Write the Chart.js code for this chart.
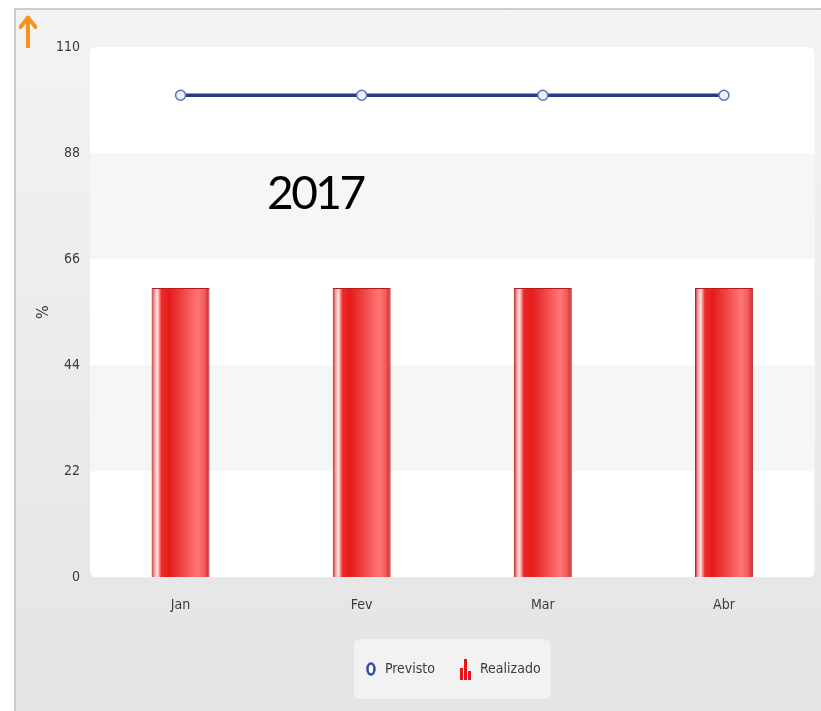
<!DOCTYPE html>
<html>
<head>
<meta charset="utf-8">
<script src="https://cdn.jsdelivr.net/npm/chart.js@4.4.0/dist/chart.umd.min.js"></script>
<style>
  body { margin: 0; background: #fff; }
  #frame {
    position: absolute; left: 14px; top: 8px; width: 807px; height: 703px;
    border-left: 2px solid #cccccc; border-top: 2px solid #cccccc;
    background: linear-gradient(#f3f3f3, #e4e4e4);
  }
  #wrap { position: absolute; left: 0; top: 0; width: 821px; height: 711px; }
  #year {
    position: absolute; left: 267px; top: 169px;
    font-family: Lato, sans-serif; font-size: 46px; line-height: 46px;
    letter-spacing: -2.5px; color: #000;
  }
  #arrow { position: absolute; left: 19px; top: 14px; }
</style>
</head>
<body>
<div id="frame"></div>
<svg id="arrow" width="18" height="36" viewBox="0 0 18 36">
  <path d="M9 6 L9 34" stroke="#f7941d" stroke-width="4" fill="none"/>
  <path d="M1.5 13 L9 3.5 L16.5 13" stroke="#f7941d" stroke-width="4" fill="none" stroke-linejoin="round" stroke-linecap="round"/>
</svg>
<div id="wrap"><canvas id="chart"></canvas></div>
<div id="year">2017</div>

<script>
const labels = ['Jan', 'Fev', 'Mar', 'Abr'];
const previsto = [100, 100, 100, 100];
const realizado = [60, 60, 60, 60];
const yTicks = [0, 22, 44, 66, 88, 110];

const BAR_FRACTION = 0.32;
const tickFont = { family: '"DejaVu Sans Condensed", "DejaVu Sans", sans-serif', size: 14 };

// pequeños iconos para la leyenda
function makePrevistoIcon() {
  const c = document.createElement('canvas');
  c.width = 12; c.height = 16;
  const g = c.getContext('2d');
  g.beginPath();
  g.ellipse(6, 8, 3.5, 5.5, 0, 0, Math.PI * 2);
  g.fillStyle = '#ffffff';
  g.fill();
  g.lineWidth = 2.5;
  g.strokeStyle = '#2d4a9e';
  g.stroke();
  return c;
}

function makeRealizadoIcon() {
  const c = document.createElement('canvas');
  c.width = 14; c.height = 22;
  const g = c.getContext('2d');
  g.fillStyle = '#e8141c';
  g.fillRect(1, 10, 3, 12);
  g.fillRect(5, 1, 3, 21);
  g.fillRect(9, 13, 3, 9);
  return c;
}

const previstoIcon = makePrevistoIcon();
const realizadoIcon = makeRealizadoIcon();

function barGradient(c) {
  const chart = c.chart;
  const x = chart.scales.x;
  if (!x || !chart.chartArea) return '#e82020';
  const cx = x.getPixelForValue(c.dataIndex);
  const w = x.width / labels.length * BAR_FRACTION;
  const g = chart.ctx.createLinearGradient(cx - w / 2, 0, cx + w / 2, 0);
  g.addColorStop(0, '#c81a1a');
  g.addColorStop(0.05, '#f4a0a0');
  g.addColorStop(0.10, '#fde4e4');
  g.addColorStop(0.17, '#ee2a2a');
  g.addColorStop(0.30, '#e51b1b');
  g.addColorStop(0.55, '#f04848');
  g.addColorStop(0.80, '#ff7676');
  g.addColorStop(0.92, '#f05a5a');
  g.addColorStop(1, '#c42222');
  return g;
}

// fondo blanco del área de trazado con franjas alternas
const plotBackground = {
  id: 'plotBackground',
  beforeDraw(chart) {
    const { ctx, chartArea } = chart;
    const y = chart.scales.y;
    ctx.save();
    ctx.beginPath();
    ctx.roundRect(chartArea.left, chartArea.top, chartArea.width, chartArea.height, 6);
    ctx.fillStyle = '#ffffff';
    ctx.fill();
    ctx.clip();
    ctx.fillStyle = '#f6f6f6';
    for (let i = 1; i < yTicks.length - 1; i += 2) {
      const top = y.getPixelForValue(yTicks[i + 1]);
      const bottom = y.getPixelForValue(yTicks[i]);
      ctx.fillRect(chartArea.left, top, chartArea.width, bottom - top);
    }
    ctx.restore();

    // caja de la leyenda
    const boxes = chart.legend && chart.legend.legendHitBoxes;
    if (boxes && boxes.length) {
      const left = Math.min(...boxes.map(b => b.left)) - 10;
      const right = Math.max(...boxes.map(b => b.left + b.width)) + 10;
      const mid = boxes[0].top + boxes[0].height / 2;
      ctx.save();
      ctx.beginPath();
      ctx.roundRect(left, mid - 30, right - left, 60, 6);
      ctx.fillStyle = '#f2f2f2';
      ctx.fill();
      ctx.restore();
    }
  }
};

new Chart(document.getElementById('chart'), {
  data: {
    labels: labels,
    datasets: [
      {
        type: 'line',
        label: 'Previsto',
        data: previsto,
        borderColor: '#1f3c8f',
        borderWidth: 3.5,
        pointRadius: 5,
        pointBorderWidth: 1.5,
        pointBorderColor: '#5a72bb',
        pointBackgroundColor: '#eef1fa',
        tension: 0
      },
      {
        type: 'bar',
        label: 'Realizado',
        data: realizado,
        backgroundColor: barGradient,
        borderColor: '#b81818',
        borderWidth: 1,
        categoryPercentage: 1,
        barPercentage: BAR_FRACTION
      }
    ]
  },
  options: {
    responsive: true,
    maintainAspectRatio: false,
    animation: false,
    layout: { padding: { left: 16, right: 5, top: 47, bottom: 25 } },
    scales: {
      x: {
        grid: { display: false, drawTicks: false },
        border: { display: false },
        ticks: { font: tickFont, color: '#3c3c3c', padding: 20 },
        afterFit(scale) { scale.height += 4; }
      },
      y: {
        min: 0,
        max: 110,
        grid: { display: false, drawTicks: false },
        border: { display: false },
        ticks: {
          stepSize: 22,
          font: tickFont,
          color: '#3a3a3a',
          padding: 10
        },
        title: {
          display: true,
          text: '%',
          font: { ...tickFont, size: 16 },
          color: '#3a3a3a',
          padding: { top: 18, bottom: 0 }
        },
        afterFit(scale) { scale.width = 74; }
      }
    },
    plugins: {
      tooltip: { enabled: false },
      legend: {
        position: 'bottom',
        fullSize: false,
        labels: {
          usePointStyle: true,
          boxWidth: 14,
          padding: 24,
          font: tickFont,
          color: '#3c3c3c',
          generateLabels(chart) {
            return chart.data.datasets.map((ds, i) => ({
              text: ds.label,
              pointStyle: i === 0 ? previstoIcon : realizadoIcon,
              fillStyle: 'transparent',
              strokeStyle: 'transparent',
              lineWidth: 0,
              hidden: false,
              datasetIndex: i,
              fontColor: '#3c3c3c'
            }));
          }
        }
      }
    }
  },
  plugins: [plotBackground]
});
</script>
</body>
</html>
